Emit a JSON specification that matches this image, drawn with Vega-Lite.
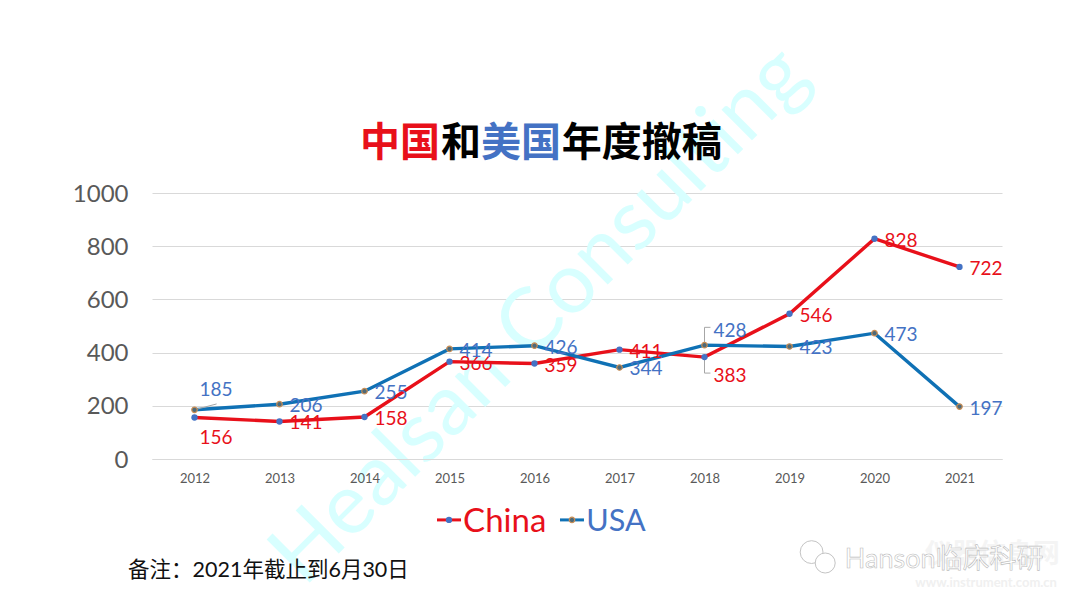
{
"$schema":"https://vega.github.io/schema/vega-lite/v6.json",
"width":850,"height":266,"autosize":"none",
"padding":{"left":152,"top":193,"right":78,"bottom":148},
"background":"white",
"config":{"font":"Lato, 'Noto Sans CJK SC'","view":{"stroke":null},"text":{"font":"Lato, 'Noto Sans CJK SC'"},
"axisX":{"grid":false,"ticks":false,"domainColor":"#d9d9d9","domainWidth":1,"labelFontSize":13,"labelColor":"#595959","labelPadding":13,"labelFlush":false},
"axisY":{"grid":true,"gridColor":"#d9d9d9","gridWidth":1,"ticks":false,"domain":false,"labelFontSize":24,"labelColor":"#595959","labelPadding":24,"labelOffset":1}},
"datasets":{"main":[
{"year":2012,"series":"China","value":156},{"year":2013,"series":"China","value":141},{"year":2014,"series":"China","value":158},{"year":2015,"series":"China","value":366},{"year":2016,"series":"China","value":359},{"year":2017,"series":"China","value":411},{"year":2018,"series":"China","value":383},{"year":2019,"series":"China","value":546},{"year":2020,"series":"China","value":828},{"year":2021,"series":"China","value":722},
{"year":2012,"series":"USA","value":185},{"year":2013,"series":"USA","value":206},{"year":2014,"series":"USA","value":255},{"year":2015,"series":"USA","value":414},{"year":2016,"series":"USA","value":426},{"year":2017,"series":"USA","value":344},{"year":2018,"series":"USA","value":428},{"year":2019,"series":"USA","value":423},{"year":2020,"series":"USA","value":473},{"year":2021,"series":"USA","value":197}
]},
"layer":[
{"data":{"values":[{"t":"Healsan Consulting"}]},"mark":{"type":"text","angle":-45,"fontSize":85,"color":"#d8ffff","align":"center","baseline":"middle"},"encoding":{"x":{"datum":2016.065,"type":"quantitative","title":null,"scale":{"domain":[2011.5,2021.5],"nice":false,"zero":false},"axis":{"values":[2012,2013,2014,2015,2016,2017,2018,2019,2020,2021],"format":"d","title":null,"zindex":1}},"y":{"datum":540,"type":"quantitative","title":null,"scale":{"domain":[0,1000],"nice":false},"axis":{"values":[0,200,400,600,800,1000],"format":"d","title":null}},"text":{"field":"t"}}},
{"data":{"name":"main"},"mark":{"type":"line","strokeWidth":3.4},"encoding":{"x":{"field":"year","type":"quantitative","title":null},"y":{"field":"value","type":"quantitative","title":null},"color":{"field":"series","type":"nominal","scale":{"domain":["China","USA"],"range":["#e8101a","#0f71b5"]},"legend":null}}},
{"data":{"values":[
{"g":"a","year":2012,"value":185},{"g":"a","year":2012.26,"value":207},
{"g":"b","year":2018,"value":428},{"g":"b","year":2018,"value":495},{"g":"b","year":2018.07,"value":495},
{"g":"c","year":2018,"value":383},{"g":"c","year":2018,"value":323},{"g":"c","year":2018.07,"value":323}
]},"mark":{"type":"line","strokeWidth":1,"color":"#a6a6a6"},"encoding":{"x":{"field":"year","type":"quantitative","title":null},"y":{"field":"value","type":"quantitative","title":null},"detail":{"field":"g"}}},
{"data":{"name":"main"},"transform":[{"filter":"datum.series=='China'"}],"mark":{"type":"point","filled":true,"size":40,"opacity":1,"shape":"circle","color":"#4472c4"},"encoding":{"x":{"field":"year","type":"quantitative","title":null},"y":{"field":"value","type":"quantitative","title":null}}},
{"data":{"name":"main"},"transform":[{"filter":"datum.series=='USA'"}],"mark":{"type":"point","filled":true,"size":30,"opacity":1,"shape":"circle","fill":"#4f6a78","stroke":"#c98e55","strokeWidth":1.2},"encoding":{"x":{"field":"year","type":"quantitative","title":null},"y":{"field":"value","type":"quantitative","title":null}}},
{"data":{"name":"main"},"transform":[{"filter":"!(datum.year==2012 || datum.year==2018)"}],"mark":{"type":"text","align":"left","baseline":"middle","dx":10,"dy":2,"fontSize":19},"encoding":{"x":{"field":"year","type":"quantitative","title":null},"y":{"field":"value","type":"quantitative","title":null},"text":{"field":"value"},"color":{"condition":{"test":"datum.series=='China'","value":"#e8101a"},"value":"#4472c4"}}},
{"data":{"name":"main"},"transform":[{"filter":"datum.year==2018 && datum.series=='China'"}],"mark":{"type":"text","align":"left","baseline":"middle","dx":9,"dy":19,"fontSize":19,"color":"#e8101a"},"encoding":{"x":{"field":"year","type":"quantitative","title":null},"y":{"field":"value","type":"quantitative","title":null},"text":{"field":"value"}}},
{"data":{"name":"main"},"transform":[{"filter":"datum.year==2018 && datum.series=='USA'"}],"mark":{"type":"text","align":"left","baseline":"middle","dx":9,"dy":-14,"fontSize":19,"color":"#4472c4"},"encoding":{"x":{"field":"year","type":"quantitative","title":null},"y":{"field":"value","type":"quantitative","title":null},"text":{"field":"value"}}},
{"data":{"name":"main"},"transform":[{"filter":"datum.year==2012 && datum.series=='China'"}],"mark":{"type":"text","align":"left","baseline":"middle","dx":5,"dy":20,"fontSize":19,"color":"#e8101a"},"encoding":{"x":{"field":"year","type":"quantitative","title":null},"y":{"field":"value","type":"quantitative","title":null},"text":{"field":"value"}}},
{"data":{"name":"main"},"transform":[{"filter":"datum.year==2012 && datum.series=='USA'"}],"mark":{"type":"text","align":"left","baseline":"middle","dx":5,"dy":-20,"fontSize":19,"color":"#4472c4"},"encoding":{"x":{"field":"year","type":"quantitative","title":null},"y":{"field":"value","type":"quantitative","title":null},"text":{"field":"value"}}},
{"data":{"values":[{"t":"中国"}]},"mark":{"type":"text","align":"left","baseline":"middle","fontSize":40,"fontWeight":"bold","color":"#e8101a"},"encoding":{"x":{"datum":2013.946,"type":"quantitative","title":null},"y":{"datum":1184,"type":"quantitative","title":null},"text":{"field":"t"}}},
{"data":{"values":[{"t":"和"}]},"mark":{"type":"text","align":"left","baseline":"middle","fontSize":40,"fontWeight":"bold","color":"#000000"},"encoding":{"x":{"datum":2014.9,"type":"quantitative","title":null},"y":{"datum":1184,"type":"quantitative","title":null},"text":{"field":"t"}}},
{"data":{"values":[{"t":"美国"}]},"mark":{"type":"text","align":"left","baseline":"middle","fontSize":40,"fontWeight":"bold","color":"#4472c4"},"encoding":{"x":{"datum":2015.37,"type":"quantitative","title":null},"y":{"datum":1184,"type":"quantitative","title":null},"text":{"field":"t"}}},
{"data":{"values":[{"t":"年度撤稿"}]},"mark":{"type":"text","align":"left","baseline":"middle","fontSize":40,"fontWeight":"bold","color":"#000000"},"encoding":{"x":{"datum":2016.32,"type":"quantitative","title":null},"y":{"datum":1184,"type":"quantitative","title":null},"text":{"field":"t"}}},
{"data":{"values":[{"k":"China"}]},"mark":{"type":"rule","strokeWidth":3,"color":"#e8101a"},"encoding":{"x":{"datum":2014.853,"type":"quantitative","title":null},"x2":{"datum":2015.135},"y":{"datum":-229,"type":"quantitative","title":null}}},
{"data":{"values":[{"k":"USA"}]},"mark":{"type":"rule","strokeWidth":3,"color":"#0f71b5"},"encoding":{"x":{"datum":2016.3,"type":"quantitative","title":null},"x2":{"datum":2016.582},"y":{"datum":-229,"type":"quantitative","title":null}}},
{"data":{"values":[{"k":"China"}]},"mark":{"type":"point","filled":true,"size":40,"opacity":1,"shape":"circle","color":"#4472c4"},"encoding":{"x":{"datum":2014.994,"type":"quantitative","title":null},"y":{"datum":-229,"type":"quantitative","title":null}}},
{"data":{"values":[{"k":"USA"}]},"mark":{"type":"point","filled":true,"size":30,"opacity":1,"shape":"circle","fill":"#4f6a78","stroke":"#c98e55","strokeWidth":1.2},"encoding":{"x":{"datum":2016.441,"type":"quantitative","title":null},"y":{"datum":-229,"type":"quantitative","title":null}}},
{"data":{"values":[{"t":"China"}]},"mark":{"type":"text","align":"left","baseline":"middle","fontSize":33,"color":"#e8101a"},"encoding":{"x":{"datum":2015.16,"type":"quantitative","title":null},"y":{"datum":-235,"type":"quantitative","title":null},"text":{"field":"t"}}},
{"data":{"values":[{"t":"USA"}]},"mark":{"type":"text","align":"left","baseline":"middle","fontSize":30.5,"color":"#4472c4"},"encoding":{"x":{"datum":2016.61,"type":"quantitative","title":null},"y":{"datum":-235,"type":"quantitative","title":null},"text":{"field":"t"}}},
{"data":{"values":[{"t":"备注：2021年截止到6月30日"}]},"mark":{"type":"text","align":"left","baseline":"middle","fontSize":21.5,"color":"#111111"},"encoding":{"x":{"datum":2011.218,"type":"quantitative","title":null},"y":{"datum":-421,"type":"quantitative","title":null},"text":{"field":"t"}}},
{"data":{"values":[{"t":"仪器信息网"}]},"mark":{"type":"text","align":"left","baseline":"middle","fontSize":27,"fontWeight":"bold","color":"#f4f4f4"},"encoding":{"x":{"datum":2020.59,"type":"quantitative","title":null},"y":{"datum":-361,"type":"quantitative","title":null},"text":{"field":"t"}}},
{"data":{"values":[{"t":"www.instrument.com.cn"}]},"mark":{"type":"text","align":"left","baseline":"middle","fontSize":13,"fontWeight":"bold","color":"#f0f0f0"},"encoding":{"x":{"datum":2020.48,"type":"quantitative","title":null},"y":{"datum":-466,"type":"quantitative","title":null},"text":{"field":"t"}}},
{"data":{"values":[{"k":"a"}]},"mark":{"type":"point","size":520,"shape":"circle","fill":"#ffffff","opacity":1,"stroke":"#c4c4c4","strokeWidth":1},"encoding":{"x":{"datum":2019.26,"type":"quantitative","title":null},"y":{"datum":-350,"type":"quantitative","title":null}}},
{"data":{"values":[{"k":"b"}]},"mark":{"type":"point","size":400,"shape":"circle","fill":"#ffffff","opacity":1,"stroke":"#c4c4c4","strokeWidth":1},"encoding":{"x":{"datum":2019.42,"type":"quantitative","title":null},"y":{"datum":-391,"type":"quantitative","title":null}}},
{"data":{"values":[{"t":"Hanson临床科研"}]},"mark":{"type":"text","align":"left","baseline":"middle","fontSize":27,"color":"#ffffff","stroke":"#bdbdbd","strokeWidth":0.6},"encoding":{"x":{"datum":2019.65,"type":"quantitative","title":null},"y":{"datum":-380,"type":"quantitative","title":null},"text":{"field":"t"}}}
]
}
